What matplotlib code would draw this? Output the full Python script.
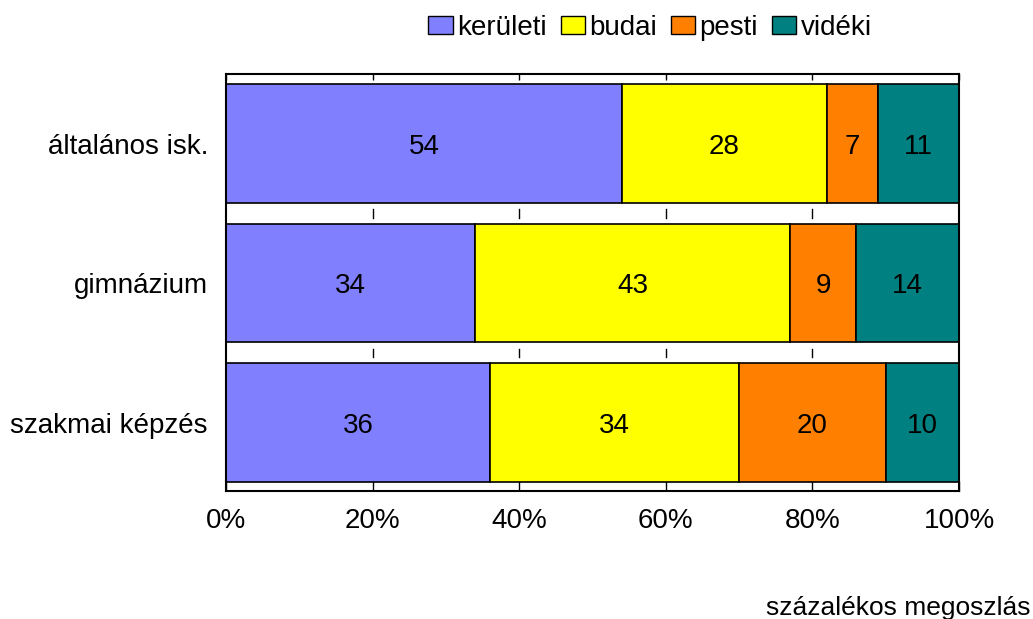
import matplotlib
matplotlib.use("Agg")
import matplotlib.pyplot as plt
import numpy as np
from matplotlib.patches import Patch

plt.rcParams['font.family'] = ['Liberation Sans', 'DejaVu Sans']

categories = ["általános isk.", "gimnázium", "szakmai képzés"]
series_names = ["kerületi", "budai", "pesti", "vidéki"]
keruleti = [54, 34, 36]
budai = [28, 43, 34]
pesti = [7, 9, 20]
videki = [11, 14, 10]
colors = ["#8080FF", "#FFFF00", "#FF8000", "#008080"]
x_ticks = [0, 20, 40, 60, 80, 100]
x_ticklabels = ["0%", "20%", "40%", "60%", "80%", "100%"]
xlabel = "százalékos megoszlás"

series = [keruleti, budai, pesti, videki]

fig = plt.figure(figsize=(10.33, 6.19), dpi=100)
ax = fig.add_axes([226/1033, 1-491/619, (959-226)/1033, (491-74)/619])

y = np.arange(len(categories))
left = np.zeros(len(categories))
FS = 20
for vals, col in zip(series, colors):
    vals = np.array(vals, dtype=float)
    ax.barh(y, vals, left=left, height=0.85, color=col, edgecolor="black", linewidth=1.2, zorder=2)
    for yi, v, l in zip(y, vals, left):
        ax.text(l + v/2, yi, f"{int(v)}", ha="center", va="center_baseline", fontsize=FS, zorder=3)
    left += vals

ax.set_xlim(0, 100)
ax.set_ylim(2.49, -0.5)
ax.set_yticks(y)
ax.set_yticklabels(categories, fontsize=FS)
ax.set_xticks(x_ticks)
ax.set_xticklabels(x_ticklabels, fontsize=FS)
ax.tick_params(axis="y", length=0, pad=13)
ax.tick_params(axis="x", direction="in", length=7, width=1, pad=12)
sec = ax.secondary_xaxis("top")
sec.set_xticks(x_ticks)
sec.tick_params(direction="in", length=4, width=1, labeltop=False)
sec.spines["top"].set_visible(False)
for s in ax.spines.values():
    s.set_linewidth(1.5)

# small separator ticks in gaps between bars
for g in [0.5, 1.5]:
    for xv in x_ticks[1:-1]:
        ax.plot([xv, xv], [g - 0.03, g + 0.03], color="black", lw=1, zorder=1)

handles = [Patch(facecolor=c, edgecolor="black", label=n) for c, n in zip(colors, series_names)]
fig.legend(handles=handles, loc="center", bbox_to_anchor=(650/1033, 1-28/619), ncol=4,
           frameon=False, fontsize=FS, handlelength=0.88, handleheight=0.6,
           handletextpad=0.15, columnspacing=0.5, borderaxespad=0)

fig.text(1030/1033, 1-615/619, xlabel, ha="right", va="baseline", fontsize=19)

fig.savefig("out.png", dpi=100)
